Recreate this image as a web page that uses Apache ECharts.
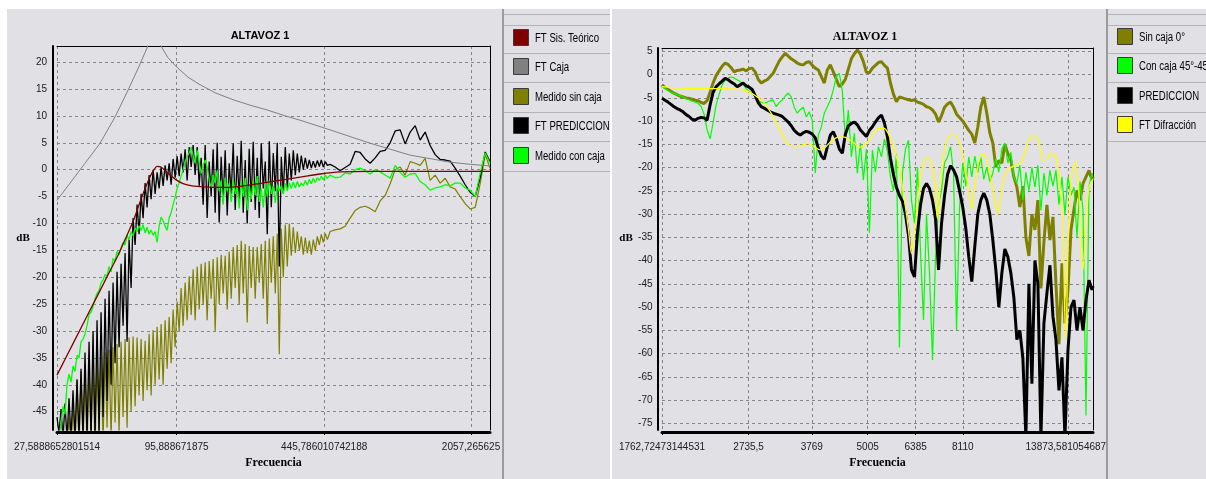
<!DOCTYPE html>
<html>
<head>
<meta charset="utf-8">
<title>ALTAVOZ 1</title>
<script src="https://cdn.jsdelivr.net/npm/echarts@6/dist/echarts.min.js"></script>
<style>
  html, body { margin: 0; padding: 0; background: #ffffff; width: 1206px; height: 479px; overflow: hidden; }
  .panel { position: absolute; overflow: hidden; background: #e0e0e5; }
  #left  { left: 7px;   top: 9px; width: 603px; height: 470px; }
  #right { left: 612px; top: 9px; width: 594px; height: 470px; }
</style>
</head>
<body>
<div id="left" class="panel"></div>
<div id="right" class="panel"></div>
<script>
// ---------------- Left panel: low band (27.6 Hz - 2.5 kHz) ----------------
const xTickValsL = [27.5888652801514, 95.888671875, 445.786010742188, 2057.265625];
const xTickTextL = ['27,5888652801514', '95,888671875', '445,786010742188', '2057,265625'];
const yTicksL = [-45, -40, -35, -30, -25, -20, -15, -10, -5, 0, 5, 10, 15, 20];

// theoretical system response
const freqTeoL = [27.59, 33.29, 41.00, 47.93, 52.1, 56.06, 60.94, 65.52, 69.06, 72.71,
  75.8, 78.26, 81.59, 85.07, 89.56, 95.4, 102.6, 112.7, 129.1, 150.8,
  176.5, 217.4, 267.9, 347.0, 427.4, 526.4, 719.6, 1211, 2507];
const teoL = [-38.2, -31.6, -24.3, -18.8, -15.9, -13.0, -9.6, -6.0, -3.5, -1.3,
  0.0, 0.6, 0.5, -0.2, -1.0, -1.9, -2.6, -3.0, -3.2, -3.3,
  -3.2, -2.7, -2.1, -1.4, -0.8, -0.4, -0.3, -0.3, -0.3];

// enclosure transfer function
const freqCajaL = [27.59, 31.59, 36.94, 43.17, 50.49, 57.84, 64.15, 69.06, 72.71, 76.65,
  80.70, 87.7, 96.41, 108.0, 122.4, 143.3, 172.9, 206.0, 246.5, 297.3,
  347.0, 474.3, 697, 1092, 1656, 2039, 2507];
const cajaL = [-5.7, -2.5, 1.2, 4.9, 9.8, 14.8, 18.8, 21.8, 24.0, 27.0,
  23.3, 20.8, 19.0, 17.2, 15.8, 14.3, 13.0, 12.0, 11.1, 10.0,
  9.2, 7.4, 5.1, 2.7, 1.4, 1.0, 0.7];

// measurement frequencies (Hz)
const freqL = [
  27.59, 28.17, 28.77, 29.37, 29.99, 30.62, 31.27, 31.93, 32.60, 33.29,
  33.99, 34.70, 35.43, 36.18, 36.94, 37.72, 38.52, 39.33, 40.16, 41.00,
  41.87, 42.75, 43.65, 44.57, 45.51, 46.47, 47.45, 48.45, 49.47, 50.51,
  51.57, 52.66, 53.77, 54.90, 56.06, 57.24, 58.45, 59.68, 60.94, 62.22,
  63.53, 64.87, 66.24, 67.63, 69.06, 70.51, 72.00, 73.52, 75.07, 76.65,
  78.26, 79.91, 81.59, 83.31, 85.07, 86.86, 88.69, 90.56, 92.47, 94.42,
  96.41, 98.44, 100.5, 102.6, 104.8, 107.0, 109.3, 111.6, 113.9, 116.3,
  118.8, 121.3, 123.8, 126.4, 129.1, 131.8, 134.6, 137.4, 140.3, 143.3,
  146.3, 149.4, 152.5, 155.7, 159.0, 162.4, 165.8, 169.3, 172.9, 176.5,
  180.2, 184.0, 187.9, 191.9, 195.9, 200.0, 204.2, 208.5, 212.9, 217.4,
  222.0, 226.7, 231.5, 236.4, 241.4, 246.5, 251.7, 257.0, 262.4, 267.9,
  273.5, 279.3, 285.2, 291.2, 297.3, 303.6, 310.0, 316.5, 323.2, 330.0,
  337.0, 344.1, 351.3, 358.7, 366.3, 374.0, 381.9, 389.9, 398.1, 406.5,
  415.1, 423.8, 432.7, 441.9, 451.2, 460.7,
  474.3, 499.6, 526.4, 554.6, 584.3, 615.6, 648.4, 683.1, 719.6, 758.1,
  798.5, 841.2, 886.4, 933.6, 983.6, 1036, 1092, 1150, 1211, 1276,
  1344, 1416, 1492, 1572, 1656, 1744, 1838, 1936, 2039, 2149,
  2263, 2385, 2507];

// FT PREDICCION (dB)
const predL = [
  -46, -49, -44.5, -50, -43.5, -50, -42.5, -50, -41, -50,
  -39, -50, -37, -50, -34, -50, -32, -50, -30, -50,
  -28, -49, -26.5, -46, -24, -43, -22.5, -40, -21, -36,
  -19, -33, -17.5, -29, -15.5, -32, -13, -22, -9, -14,
  -6.5, -12, -4.5, -9, -2.5, -7, -1, -5.5, 0, -4.5,
  -0.5, -3.5, 0.5, -3, 0.8, -2, 1.2, -2.8, 2, -1.5,
  2.5, -1.2, 3, -0.5, 3.8, -2, 4.2, 0.5, 4.6, -1,
  4.2, -3, 2.2, -6.5, 4.6, -9, 1.5, -5, 3.8, -8,
  5.0, -9.8, 2.4, -6, 3.6, -8.5, 1.2, -4.5, 4.9, -7.5,
  2.6, -5.5, 5.4, -8, 1.8, -10, 3.9, -6, 5.2, -7.5,
  2.2, -9, 4.9, -3.5, 1.5, -12, 5.3, -7, 3.1, -4,
  5.0, -18, 2.4, -4.5, 4.2, -3.5, 3.0, -2, 3.6, -1,
  3, -0.5, 2.6, 0, 2.2, 0.2, 1.8, 0.3, 1.6, 0.4,
  1.7, 0.6, 1.8, 0.5, 1.5, 0.8,
  1.0, 0.5, -0.2, 0.4, 1.0, 3.4, 3.2, 2.0, 1.2, 2.2,
  3.4, 3.6, 5.0, 7.2, 7.4, 4.8, 7.0, 8.2, 5.5, 7.0,
  4.5, 2.8, 1.9, 1.8, 1.6, 0.3, -1.2, -2.8, -4.2, -5.0,
  -1.5, 3.3, 1.5];

// Medido sin caja (dB)
const sinL = [
  -52, -52, -51, -52, -50, -52, -46, -52, -43, -52,
  -39, -52, -37.5, -51, -37, -52, -36.5, -50, -36, -52,
  -35.5, -49, -34.8, -51, -34, -48, -33.5, -50, -33, -47,
  -32.4, -49, -32, -46, -31.5, -48, -31.2, -45, -31, -44,
  -31.2, -42, -31.5, -43, -31.8, -41, -30.5, -42, -29.8, -40,
  -29.2, -39, -28.7, -40, -28, -37, -27.4, -36, -26, -33,
  -24.5, -30, -22, -29, -21, -28, -19.8, -27, -18.5, -28,
  -18, -26, -17.5, -25, -17.2, -28, -17, -24, -16.6, -30,
  -16.3, -25, -15.8, -23, -16, -26, -15.2, -24, -14.4, -22,
  -14, -25, -13.2, -23, -13.8, -28.4, -14.2, -22, -14.4, -24,
  -14.4, -21, -13.8, -24, -13.2, -28.7, -12.8, -21, -12.4, -23,
  -11.9, -34.3, -11, -20, -10.2, -18, -10, -16, -10.7, -15.5,
  -11.5, -15, -12.4, -15.8, -12.6, -15.5, -13.2, -15.8, -13, -15,
  -12.4, -14, -12, -13.5, -11.9, -13,
  -11.5, -11.2, -11.0, -10.5, -9.0, -7.6, -7.0, -6.8, -7.2, -7.8,
  -5.8, -4.8, -2.6, 0.0, 0.5, -1.0, 1.5, 1.2, 0.8, 2.1,
  -2.0, -1.0, -2.5, -1.6, -3.2, -3.6, -5.0, -6.3, -7.3, -7.0,
  -2.6, 2.8, 0.3];

// Medido con caja (dB)
const conL = [
  -52, -50, -47, -44, -45.5, -40, -38, -39.5, -36.5, -37.5,
  -34.5, -35, -32, -31.5, -30.5, -29, -27, -26.5, -25.5, -24,
  -23, -22.5, -21, -20.5, -19.5, -19.8, -18, -19, -16.5, -17,
  -15.2, -15.8, -14.5, -13.5, -14, -12.2, -13, -11.5, -12.3, -10.8,
  -11.5, -10.4, -11.3, -10.2, -11.8, -10.7, -12, -11.2, -12.2, -11.5,
  -13.5, -10.5, -8.8, -9.5, -10.5, -11.3, -9, -8, -6.5, -5.1,
  -3.5, -2.4, -1.2, 0, 1.5, 2.4, 3.1, 4.2, 2.6, 1.2,
  3.6, 1.5, -0.7, 0.8, 1.8, 0.5, -2, -3.2, -1, -2.5,
  -0.1, -4, -2, -6.5, -1.5, -4, -2.5, -6, -1.8, -4.5,
  -3, -7.2, -2.2, -5, -1.5, -7.6, -3, -5.5, -2, -4.8,
  -1.2, -6, -3.5, -7, -2.5, -5, -2, -4.5, -3, -6.2,
  -2.8, -4, -3, -4.5, -2.5, -4, -2.4, -3.5, -2.3, -3.4,
  -2.2, -3.2, -2.5, -3, -2, -2.9, -1.8, -2.6, -1.6, -2.4,
  -1.5, -2, -1.2, -1.9, -1, -1.6,
  -1.0, -1.5, -1.4, -0.6, -0.8, 0.0, 0.3, -0.2, -0.8, 0.0,
  -0.4, -1.0, -1.6, 0.8, -0.5, -1.4, -0.8, -0.7, -2.2, -2.8,
  -3.8, -3.4, -3.2, -2.8, -3.0, -2.5, -2.5, -3.4, -3.8, -5.0,
  -0.7, 3.1, 1.2];

// ---------------- Right panel: high band (1.76 kHz - 15.7 kHz) ----------------
const xTickValsR = [1762.72473144531, 2735.5, 3769, 5005, 6385, 8110, 13873.5810546875];
const xTickTextR = ['1762,72473144531', '2735,5', '3769', '5005', '6385', '8110', '13873,5810546875'];
const yTicksR = [-75, -70, -65, -60, -55, -50, -45, -40, -35, -30, -25, -20, -15, -10, -5, 0, 5];

const freqR = [
  1762.7, 1789.8, 1817.3, 1845.2, 1873.6, 1902.4, 1931.6, 1961.3, 1991.4, 2022.0,
  2053.1, 2084.7, 2116.7, 2149.2, 2182.2, 2215.8, 2249.8, 2284.4, 2319.5, 2355.1,
  2391.3, 2428.1, 2465.4, 2503.3, 2541.7, 2580.8, 2620.4, 2660.7, 2701.6, 2743.1,
  2785.3, 2828.1, 2871.5, 2915.7, 2960.5, 3006.0, 3052.2, 3099.1, 3146.7, 3195.0,
  3244.1, 3294.0, 3344.6, 3396.0, 3448.2, 3501.2, 3555.0, 3609.6, 3665.1, 3721.4,
  3778.6, 3836.7, 3895.6, 3955.5, 4016.3, 4078.0, 4140.6, 4204.3, 4268.9, 4334.5,
  4401.1, 4468.7, 4537.4, 4607.1, 4677.9, 4749.8, 4822.8, 4896.9, 4972.2, 5048.6,
  5126.2, 5205.0, 5285.0, 5366.2, 5448.7, 5532.4, 5617.4, 5703.8, 5791.4, 5880.4,
  5970.8, 6062.6, 6155.8, 6250.4, 6346.4, 6444.0, 6543.0, 6643.6, 6745.7, 6849.3,
  6954.6, 7061.5, 7170.0, 7280.2, 7392.1, 7505.7, 7621.0, 7738.2, 7857.1, 7977.8,
  8108, 8232.6, 8359.1, 8487.6, 8618.0, 8750.5, 8885.0, 9021.5, 9160.2, 9301.0,
  9443.9, 9589.0, 9736.4, 9886.0, 10038, 10192, 10349, 10508, 10669, 10833,
  11000, 11169, 11341, 11515, 11692, 11872, 12054, 12239, 12427, 12618,
  12812, 13009, 13209, 13412, 13618, 13827, 14040, 14256, 14475, 14697,
  14923, 15152, 15385, 15622, 15700];

// Sin caja 0° (dB)
const sinR = [
  -2.2, -2.8, -3.2, -3.6, -4.0, -4.3, -4.6, -4.8, -5.0, -5.1,
  -5.3, -5.5, -5.6, -6.0, -6.2, -5.6, -3.8, -1.8, -0.2, 0.8,
  1.8, 2.5, 2.2, 1.5, 0.6, 0.9, 1.0, 1.2, 0.8, 1.3,
  1.4, 0.6, -1.0, -1.8, -1.4, -1.1, -0.4, 0.3, 1.6, 2.9,
  3.8, 4.6, 4.0, 3.4, 3.0, 2.5, 2.2, 2.1, 2.6, 2.8,
  2.0, 1.4, 1.0, -0.4, -1.8, 1.0, 2.1, 0.6, -1.0, -2.6,
  -2.0, -1.0, 1.2, 3.4, 4.5, 5.3, 4.4, 2.8, 0.5, 0.4,
  1.4, 2.0, 2.6, 2.8, 2.0, 1.4, -1.8, -4.2, -5.8, -4.8,
  -5.0, -5.2, -5.4, -5.6, -5.4, -5.9, -6.1, -6.4, -6.9, -7.1,
  -7.6, -8.5, -10.2, -8.8, -7.0, -6.3, -5.9, -7.0, -8.5, -9.2,
  -10.0, -11.0, -12.0, -12.8, -14.7, -11.3, -7.0, -4.8, -8.3, -12.5,
  -14.7, -19.9, -18.5, -19, -15, -17, -18.4, -22, -24.2, -28.5,
  -24, -35, -39, -30, -33.4, -27, -46, -36, -28, -35.6,
  -30.6, -45, -58, -40.6, -53.5, -46.3, -33.4, -29, -24.9, -27,
  -23.4, -22, -20.6, -22.7, -22];

// Con caja 45°-45° (dB)
const conR = [
  -2.6, -3.0, -3.4, -3.8, -4.0, -4.3, -4.5, -4.8, -5.2, -5.4,
  -5.7, -5.9, -6.2, -6.8, -8.5, -11.9, -13.8, -10.4, -6.5, -4.3,
  -2.2, -1.2, -0.7, -0.5, -0.7, -1.1, -1.5, -2.0, -3.0, -3.6,
  -4.0, -4.6, -5.5, -6.0, -6.1, -5.9, -5.6, -5.5, -6.9, -6.0,
  -5.5, -4.6, -4.0, -4.8, -7.0, -8.3, -7.5, -7.0, -9.1, -8.0,
  -9.8, -21.2, -13.0, -11.3, -8.3, -6.9, -5.5, -3.3, -0.5, 0.3,
  -3.5, -14.1, -7.6, -17.7, -12.6, -21.2, -14.7, -22.7, -16, -34,
  -16.2, -21, -15.5, -17.7, -13.8, -16.5, -22, -25, -17, -58.7,
  -21.2, -16, -14.1, -27, -32, -19.9, -38, -52.8, -30, -42.7,
  -61.4, -39.2, -28, -24.9, -19, -17.7, -15.5, -21.2, -55, -28.5,
  -19, -24, -17.7, -22, -17.5, -21, -17.7, -22.5, -19.9, -23,
  -21.2, -18, -21, -16, -14.7, -19, -16.7, -22, -23.4, -19.5,
  -27, -21, -25, -20, -24.2, -19.5, -29.2, -21.2, -26, -20.6,
  -24, -20.6, -28, -22, -30, -22, -26, -24.2, -35, -23,
  -29, -73.3, -24, -21.2, -22];

// PREDICCION (dB)
const predR = [
  -5.1, -5.5, -5.9, -6.4, -6.9, -7.3, -7.6, -8.0, -8.6, -9.0,
  -9.6, -9.8, -9.4, -9.2, -9.3, -9.8, -6.5, -3.8, -2.6, -2.0,
  -1.4, -0.8, -1.1, -1.6, -2.0, -2.6, -2.2, -1.8, -2.4, -2.7,
  -3.2, -4.5, -6.0, -6.9, -7.2, -7.6, -8.0, -8.3, -8.5, -8.7,
  -9.0, -9.6, -10.2, -11.0, -12.0, -12.6, -13.0, -12.5, -12.2, -12.4,
  -12.8, -13.6, -15.8, -17.5, -18.2, -15.5, -13.0, -12.3, -13.8, -16.0,
  -16.9, -12.8, -11.0, -10.5, -10.2, -10.8, -11.9, -12.6, -13.3, -12.0,
  -11.2, -10.2, -9.3, -8.7, -10.4, -13.4, -18.0, -21.5, -24.2, -26.0,
  -27.2, -30.0, -34.5, -42.0, -43.5, -34.0, -28.0, -24.5, -23.4, -24.5,
  -27.0, -31.0, -42.0, -32.0, -26.0, -21.5, -19.6, -20.5, -22.0, -25.0,
  -28.5, -33.0, -39.2, -44.5, -37.0, -30.0, -27.0, -25.5, -27.0, -30.0,
  -35.6, -42.0, -50.0, -42.7, -37.5, -39.2, -42.7, -47.9, -57.0, -55.0,
  -61.0, -78, -45.0, -66.5, -40.0, -45.0, -78, -53.5, -47.0, -41.0,
  -52.0, -57.0, -67.9, -60.8, -78, -59.3, -50.0, -48.5, -55.0, -50.0,
  -55.0, -48.5, -44.2, -46.3, -45.5];

// FT Difracción
const freqDifR = [
  1763, 1932, 2138, 2367, 2661, 2757, 2857, 2945, 3006, 3099,
  3212, 3294, 3379, 3555, 3683, 3798, 3936, 4037, 4141, 4290,
  4423, 4584, 4750, 4823, 4998, 5153, 5285, 5421, 5532, 5704,
  5822, 5911, 6063, 6156, 6250, 6379, 6543, 6677, 6814, 6955,
  7062, 7133, 7243, 7392, 7544, 7699, 7857, 8018, 8182, 8359,
  8488, 8618, 8785, 8965, 9160, 9337, 9529, 9676, 9825, 10078,
  10349, 10604, 10876, 11100, 11341, 11619, 11918, 12163, 12427, 12668,
  13009, 13209, 13464, 13671, 13882, 14167, 14385, 14606, 14923, 15152,
  15385, 15700];
const difR = [
  -2.6, -2.9, -3.0, -3.0, -3.3, -3.8, -4.8, -5.8, -6.9, -9.1,
  -11.9, -14.1, -15.2, -15.3, -14.8, -15.4, -16.2, -15.6, -14.5, -13.5,
  -13.4, -14.1, -15.3, -15.6, -14.6, -12.6, -11.6, -11.5, -12.3, -15.5,
  -18.5, -21.5, -28.5, -33.4, -38.5, -32, -22, -18.4, -17.8, -20.5,
  -25, -31, -23, -16, -13.4, -12.6, -13.2, -15.5, -19.5, -25,
  -29, -24, -19, -17, -18.5, -22, -27, -30, -26, -21,
  -20, -19.5, -19, -17, -14.1, -13, -14.2, -18.4, -18.2, -16.9,
  -17.7, -22, -32, -57, -32, -19.9, -18.8, -24.9, -42, -32,
  -24.2, -22.5];

// ---------------- shared drawing helpers ----------------
const BG = '#e0e0e5';
const FONT_SANS = "'Liberation Sans', Arial, sans-serif";
const FONT_SERIF = "'Liberation Serif', 'Times New Roman', serif";
const GRID_LINE = { color: '#85858a', type: [3, 3], width: 1 };
const ROW_PITCH = 29.4;

function pairs(fs, vs) { return fs.map((f, i) => [f, vs[i]]); }

function tickLabel(vals, texts) {
  return function (v) {
    let bi = 0, bd = Infinity;
    for (let i = 0; i < vals.length; i++) {
      const d = Math.abs(Math.log(vals[i] / v));
      if (d < bd) { bd = d; bi = i; }
    }
    return texts[bi];
  };
}

function textEl(x, y, text, font, align, scaleX) {
  return { type: 'text', x: x, y: y, z: 60, silent: true, scaleX: scaleX || 1,
    style: { text: text, font: font, fill: '#000', align: align || 'center', verticalAlign: 'middle',
             textAlign: align || 'center', textVerticalAlign: 'middle' } };
}

function buildOption(p) {
  const [gl, gt, gw, gh] = p.grid;
  const graphic = [];
  if (p.coverLabels) {
    graphic.push({ type: 'rect', z: 50, silent: true,
      shape: { x: p.sepX + 1, y: gt + gh + 6, width: p.width - p.sepX, height: p.height },
      style: { fill: BG } });
  }
  graphic.push({ type: 'line', z: 60, silent: true,
    shape: { x1: p.sepX, y1: 0, x2: p.sepX, y2: p.height },
    style: { stroke: '#9a9a9f', lineWidth: 2 } });
  p.rows.forEach(y => graphic.push({ type: 'line', z: 60, silent: true,
    shape: { x1: p.sepX + 1, y1: y + 0.5, x2: p.width, y2: y + 0.5 },
    style: { stroke: '#b3b3b8', lineWidth: 1 } }));
  // legend: swatch + condensed label per series
  p.series.forEach(s => {
    const i = p.legendNames.indexOf(s.name);
    const y = p.legendY + i * ROW_PITCH;
    graphic.push({ type: 'rect', z: 70, silent: true,
      shape: { x: p.legendX + 0.5, y: Math.round(y) + 0.5, width: 15, height: 16 },
      style: { fill: s.color, stroke: '#3a3a3a', lineWidth: 1 } });
    graphic.push(textEl(p.legendX + 22, Math.round(y) + 9.5, s.name, '12px ' + FONT_SANS, 'left', 0.8));
  });
  graphic.push(textEl(p.dbPos[0], p.dbPos[1], 'dB', 'bold 11px ' + FONT_SERIF));
  graphic.push(textEl(gl + gw / 2, p.freqY, 'Frecuencia', 'bold 12px ' + FONT_SERIF));

  return {
    animation: false,
    backgroundColor: BG,
    title: { text: 'ALTAVOZ 1', left: p.titleX, top: p.titleY, textAlign: 'center',
      textStyle: { fontSize: p.titleSize, fontWeight: 'bold', fontFamily: p.titleFont, color: '#000' } },
    grid: { left: gl, top: gt, width: gw, height: gh, show: false },
    xAxis: [
      { type: 'log', logBase: 10, min: p.xMin, max: p.xMax, offset: 2,
        axisLine: { show: true, onZero: false, lineStyle: { color: '#000', width: 3 } },
        axisTick: { show: true, length: 3, customValues: p.xTicks, lineStyle: { color: '#000' } },
        axisLabel: { customValues: p.xTicks, formatter: tickLabel(p.xTicks, p.xLabels),
          color: '#202020', fontSize: 10, fontFamily: FONT_SANS, margin: 10 },
        splitLine: { show: true, lineStyle: GRID_LINE },
        minorTick: { show: false }, minorSplitLine: { show: false } },
      { type: 'log', logBase: 10, min: p.xMin, max: p.xMax, position: 'top',
        axisLine: { show: true, onZero: false, lineStyle: { color: '#000', width: 1 } },
        axisTick: { show: false }, axisLabel: { show: false }, splitLine: { show: false } }
    ],
    yAxis: [
      { type: 'value', min: p.yMin, max: p.yMax, offset: p.yOffset,
        axisLine: { show: true, onZero: false, lineStyle: { color: '#000', width: 2 } },
        axisTick: { show: false, customValues: p.yTicks },
        axisLabel: { customValues: p.yTicks, color: '#202020', fontSize: 10, fontFamily: FONT_SANS, margin: p.yMargin },
        splitLine: { show: true, lineStyle: GRID_LINE } },
      { type: 'value', min: p.yMin, max: p.yMax, position: 'right',
        axisLine: { show: true, onZero: false, lineStyle: { color: '#000', width: 1 } },
        axisTick: { show: false }, axisLabel: { show: false }, splitLine: { show: false } }
    ],
    graphic: graphic,
    series: p.series.map(s => ({
      type: 'line', name: s.name, data: s.data, symbol: 'none', showSymbol: false,
      silent: true, smooth: s.smooth || false, clip: true,
      lineStyle: { color: s.color, width: s.width },
      itemStyle: { color: s.color },
      emphasis: { disabled: true }
    }))
  };
}

// ---------------- left chart ----------------
const leftChart = echarts.init(document.getElementById('left'));
leftChart.setOption(buildOption({
  width: 603, height: 470,
  grid: [50, 37, 433, 384],
  xMin: 27.5888652801514, xMax: 2507, xTicks: xTickValsL, xLabels: xTickTextL,
  yMin: -48.4, yMax: 23, yTicks: yTicksL, yOffset: 4, yMargin: 6,
  titleX: 248, titleY: 16, titleSize: 11, titleFont: FONT_SANS,
  legendX: 506, legendY: 20, sepX: 496, rows: [5, 16, 44, 73, 103, 132, 162],
  dbPos: [16, 229], freqY: 454,
  legendNames: ['FT Sis. Teórico', 'FT Caja', 'Medido sin caja', 'FT PREDICCION', 'Medido con caja'],
  series: [
    { name: 'Medido sin caja', data: pairs(freqL, sinL), color: '#808000', width: 1.2 },
    { name: 'FT PREDICCION', data: pairs(freqL, predL), color: '#000000', width: 1.3 },
    { name: 'Medido con caja', data: pairs(freqL, conL), color: '#00ff00', width: 1.3 },
    { name: 'FT Caja', data: pairs(freqCajaL, cajaL), color: '#808080', width: 1 },
    { name: 'FT Sis. Teórico', data: pairs(freqTeoL, teoL), color: '#800000', width: 1.3, smooth: 0.3 }
  ]
}));

// ---------------- right chart ----------------
const rightChart = echarts.init(document.getElementById('right'));
rightChart.setOption(buildOption({
  width: 594, height: 470, coverLabels: true,
  grid: [50, 39, 431, 382],
  xMin: 1762.72473144531, xMax: 15700, xTicks: xTickValsR, xLabels: xTickTextR,
  yMin: -76.44, yMax: 5.73, yTicks: yTicksR, yOffset: 4.5, yMargin: 5,
  titleX: 248, titleY: 17, titleSize: 12, titleFont: FONT_SERIF,
  legendX: 505, legendY: 19, sepX: 495, rows: [5, 16, 44, 73, 103, 132],
  dbPos: [14, 229], freqY: 454,
  legendNames: ['Sin caja 0°', 'Con caja 45°-45°', 'PREDICCION', 'FT Difracción'],
  series: [
    { name: 'Sin caja 0°', data: pairs(freqR, sinR), color: '#808000', width: 3 },
    { name: 'Con caja 45°-45°', data: pairs(freqR, conR), color: '#00ff00', width: 1.2 },
    { name: 'PREDICCION', data: pairs(freqR, predR), color: '#000000', width: 3 },
    { name: 'FT Difracción', data: pairs(freqDifR, difR), color: '#ffff00', width: 1.3, smooth: 0.3 }
  ]
}));
</script>
</body>
</html>
